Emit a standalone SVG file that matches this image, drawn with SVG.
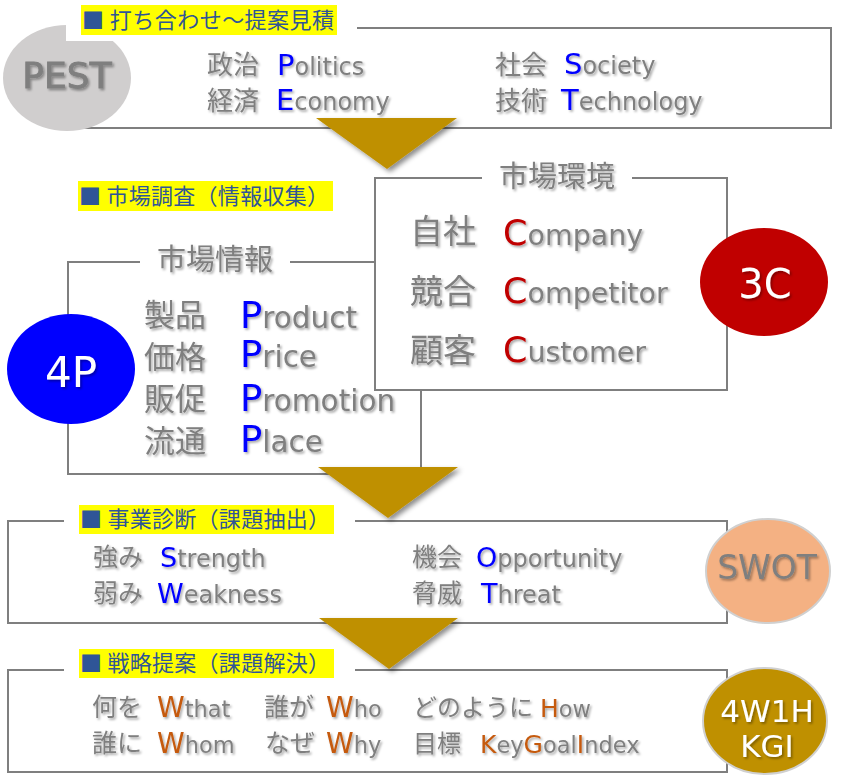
<svg xmlns="http://www.w3.org/2000/svg" width="846" height="778" viewBox="0 0 846 778">
<defs>
<style>
.box{fill:#fff;stroke:#7f7f7f;stroke-width:2}
.jp{font-family:"Noto Sans CJK JP","Noto Sans",sans-serif;fill:#7f7f7f}
.lt{font-family:"DejaVu Sans","Noto Sans",sans-serif;fill:#7f7f7f}
.lbl{font-family:"Noto Sans CJK JP","Liberation Serif",serif;fill:#2f5597;font-size:22px}
.yl{fill:#ffff00}
.wh{fill:#fff}
.b{fill:#0000ff}
.r{fill:#c00000}
.o{fill:#c55a11}
.tri{fill:#bf9000}
.ct{font-family:"DejaVu Sans","Noto Sans",sans-serif;text-anchor:middle}
</style>
<filter id="ts" x="-10%" y="-20%" width="130%" height="160%">
<feDropShadow dx="1.6" dy="1.8" stdDeviation="1" flood-color="#000" flood-opacity="0.35"/>
</filter>
<filter id="tsh" x="-20%" y="-20%" width="150%" height="160%">
<feDropShadow dx="3" dy="3" stdDeviation="2.5" flood-color="#000" flood-opacity="0.45"/>
</filter>
</defs>

<g id="pest">
<rect class="box" x="68" y="28" width="763" height="100"/>
<ellipse cx="67" cy="78" rx="64" ry="53" fill="#d0cece"/>
<rect class="wh" x="66" y="0" width="291" height="41"/>
<rect class="yl" x="81" y="5" width="256" height="30"/>
<text class="lbl" x="82" y="28" textLength="252">■ 打ち合わせ〜提案見積</text>
<g filter="url(#ts)">
<text class="ct" x="67" y="88" font-size="36" fill="#7f7f7f" stroke="#7f7f7f" stroke-width="0.9">PEST</text>
<text class="jp" font-size="26"><tspan x="207" y="74">政治</tspan><tspan x="207" y="110">経済</tspan></text>
<text class="jp" font-size="26"><tspan x="495" y="74">社会</tspan><tspan x="495" y="110">技術</tspan></text>
<text class="lt" font-size="24"><tspan x="277" y="75"><tspan class="b" font-size="29">P</tspan>olitics</tspan><tspan x="276" y="110"><tspan class="b" font-size="29">E</tspan>conomy</tspan></text>
<text class="lt" font-size="24"><tspan x="564" y="74"><tspan class="b" font-size="29">S</tspan>ociety</tspan><tspan x="561" y="110"><tspan class="b" font-size="29">T</tspan>echnology</tspan></text>
</g>
</g>

<g id="label-research">
<rect class="yl" x="78" y="181" width="255" height="30"/>
<text class="lbl" x="79" y="204" textLength="250">■ 市場調査（情報収集）</text>
</g>

<g id="market-info">
<rect class="box" x="68" y="262" width="353" height="212"/>
<rect class="wh" x="140" y="248" width="150" height="28"/>
<ellipse cx="71" cy="369" rx="64" ry="55" fill="#0000ff"/>
<g filter="url(#ts)">
<text class="jp" x="157" y="270" font-size="29">市場情報</text>
<text class="ct" x="71" y="387" font-size="42" fill="#fff">4P</text>
<text class="jp" font-size="31"><tspan x="144" y="326">製品</tspan><tspan x="144" y="368">価格</tspan><tspan x="144" y="410">販促</tspan><tspan x="144" y="452">流通</tspan></text>
<text class="lt" font-size="29.5"><tspan x="240" y="328"><tspan class="b" font-size="37">P</tspan>roduct</tspan><tspan x="240" y="367"><tspan class="b" font-size="37">P</tspan>rice</tspan><tspan x="240" y="411"><tspan class="b" font-size="37">P</tspan>romotion</tspan><tspan x="240" y="452"><tspan class="b" font-size="37">P</tspan>lace</tspan></text>
</g>
</g>

<g id="market-env">
<rect class="box" x="375" y="178" width="352" height="212"/>
<rect class="wh" x="482" y="164" width="150" height="28"/>
<g filter="url(#ts)">
<text class="jp" x="499" y="187" font-size="29">市場環境</text>
<text class="jp" font-size="33"><tspan x="410" y="243">自社</tspan><tspan x="410" y="303">競合</tspan><tspan x="410" y="362">顧客</tspan></text>
<text class="lt" font-size="28.5"><tspan x="503" y="245"><tspan class="r" font-size="35">C</tspan>ompany</tspan><tspan x="503" y="303"><tspan class="r" font-size="35">C</tspan>ompetitor</tspan><tspan x="503" y="362"><tspan class="r" font-size="35">C</tspan>ustomer</tspan></text>
</g>
<ellipse cx="764" cy="282" rx="64" ry="54" fill="#c00000"/>
<text class="ct" x="765" y="298" font-size="40" fill="#fff" filter="url(#ts)">3C</text>
</g>

<g id="swot">
<rect class="box" x="8" y="521" width="719" height="102"/>
<rect class="wh" x="64" y="505" width="291" height="30"/>
<rect class="yl" x="79" y="505" width="255" height="29"/>
<text class="lbl" x="80" y="527" textLength="250">■ 事業診断（課題抽出）</text>
<g filter="url(#ts)">
<text class="jp" font-size="25"><tspan x="93" y="566">強み</tspan><tspan x="93" y="602">弱み</tspan></text>
<text class="jp" font-size="25"><tspan x="412" y="566">機会</tspan><tspan x="412" y="602">脅威</tspan></text>
<text class="lt" font-size="24"><tspan x="160" y="567"><tspan class="b" font-size="27">S</tspan>trength</tspan><tspan x="157" y="603"><tspan class="b" font-size="27">W</tspan>eakness</tspan></text>
<text class="lt" font-size="24"><tspan x="476" y="567"><tspan class="b" font-size="27">O</tspan>pportunity</tspan><tspan x="481" y="603"><tspan class="b" font-size="27">T</tspan>hreat</tspan></text>
</g>
<ellipse cx="768" cy="571" rx="62" ry="52" fill="#f4b183" stroke="#d0d0d0" stroke-width="2"/>
<text class="ct" x="767" y="579" font-size="33" fill="#7f7f7f" filter="url(#ts)">SWOT</text>
</g>

<g id="strategy">
<rect class="box" x="8" y="670" width="719" height="102"/>
<rect class="wh" x="64" y="649" width="291" height="30"/>
<rect class="yl" x="79" y="649" width="255" height="29"/>
<text class="lbl" x="80" y="671" textLength="250">■ 戦略提案（課題解決）</text>
<g filter="url(#ts)">
<text class="jp" font-size="25"><tspan x="92" y="716">何を</tspan><tspan x="92" y="752">誰に</tspan></text>
<text class="jp" font-size="25"><tspan x="264" y="716">誰が</tspan><tspan x="265" y="752">なぜ</tspan></text>
<text class="jp" font-size="24"><tspan x="413" y="716">どのように</tspan><tspan x="413" y="752">目標</tspan></text>
<text class="lt" font-size="22.5"><tspan x="157" y="717"><tspan class="o" font-size="28">W</tspan>that</tspan><tspan x="157" y="753"><tspan class="o" font-size="28">W</tspan>hom</tspan></text>
<text class="lt" font-size="22.5"><tspan x="326" y="717"><tspan class="o" font-size="28">W</tspan>ho</tspan><tspan x="326" y="753"><tspan class="o" font-size="28">W</tspan>hy</tspan></text>
<text class="lt" font-size="22.5"><tspan x="540" y="717"><tspan class="o" font-size="25">H</tspan>ow</tspan><tspan x="480" y="753"><tspan class="o" font-size="25">K</tspan>ey<tspan class="o" font-size="25">G</tspan>oal<tspan class="o" font-size="25">I</tspan>ndex</tspan></text>
</g>
<ellipse cx="765" cy="721" rx="62" ry="53" fill="#bf9000" stroke="#d0d0d0" stroke-width="2"/>
<text class="ct" font-size="31" fill="#fff" filter="url(#ts)"><tspan x="767" y="722">4W1H</tspan><tspan x="767" y="757">KGI</tspan></text>
</g>

<g id="connectors" filter="url(#tsh)">
<polygon class="tri" points="316,118 457,118 387,169"/>
<polygon class="tri" points="318,467 458,467 388,518"/>
<polygon class="tri" points="319,618 458,618 389,669"/>
</g>
</svg>
